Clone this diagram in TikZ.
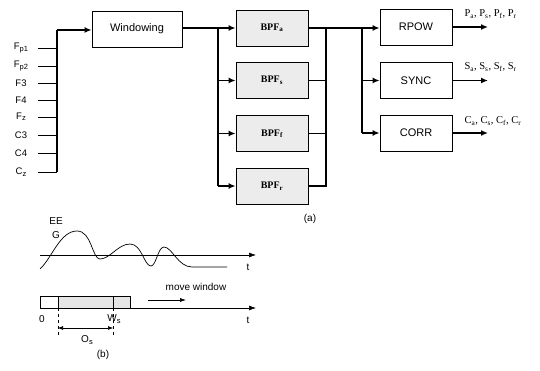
\documentclass[tikz,border=0pt]{standalone}
\usepackage{fontspec}
\setmainfont{Liberation Sans}
\newfontfamily\serifb{Liberation Serif}
\usetikzlibrary{arrows.meta}
\newcommand{\lsub}[1]{\raisebox{-0.15em}{\fontsize{7.5}{8}\selectfont #1}}
\begin{document}
\begin{tikzpicture}[x=1pt,y=-1pt,
  box/.style={draw,line width=0.8pt,minimum width=72pt,minimum height=36pt,inner sep=0pt,font=\fontsize{11}{12}\selectfont},
  bpf/.style={box,fill=gray!15,font=\serifb\bfseries\fontsize{10}{12}\selectfont},
  bus/.style={line width=1.5pt},
  arr/.style={line width=1.5pt,-{Latex[length=7pt,width=6pt]}},
  inlab/.style={font=\fontsize{9.5}{10}\selectfont,anchor=center},
  outlab/.style={font=\serifb\fontsize{10.5}{11}\selectfont,anchor=west},
  thin/.style={line width=0.6pt}]
\useasboundingbox (0,0) rectangle (540,371);
% input labels and lines
\foreach \n/\lab/\y in {a/F\lsub{p1}/48,b/F\lsub{p2}/66,c/F3/83,d/F4/100,e/F\lsub{z}/117,f/C3/135,g/C4/153,h/C\lsub{z}/172}{
  \node[inlab] (in\n) at (21,\y) {\lab};
  \coordinate (ie\n) at (57,\y);
  \draw[thin] (38,\y) -- (ie\n);
}
\coordinate (bustop) at (57,30);
\draw[bus] (ieh) -- (bustop);
% windowing
\node[box,minimum width=90pt] (win) at (137,29) {Windowing};
\draw[arr] (bustop) -- (win.west |- bustop);
% BPFs
\node[bpf] (bpfa) at (272,28) {BPF\textsubscript{a}};
\node[bpf] (bpfs) at (272,80.5) {BPF\textsubscript{s}};
\node[bpf] (bpff) at (272,133.5) {BPF\textsubscript{f}};
\node[bpf] (bpfr) at (272,186) {BPF\textsubscript{r}};
\coordinate (s1) at (218,28);
\coordinate (s4) at (218,186);
\draw[bus] (win.east |- s1) -- (s1);
\draw[bus] (s1) -- (s4);
\draw[arr] (s1) -- (bpfa.west);
\draw[arr] (218,80.5) -- (bpfs.west);
\draw[arr] (218,133.5) -- (bpff.west);
\draw[arr] (s4) -- (bpfr.west);
% output bus
\coordinate (o1) at (326,28);
\coordinate (o4) at (326,186);
\draw[bus] (bpfs.east) -- (326,80.5);
\draw[bus] (bpff.east) -- (326,133.5);
\draw[bus] (bpfr.east) -- (o4) -- (o1);
% RPOW etc
\node[box] (rpow) at (416,27) {RPOW};
\node[box] (sync) at (416,80.5) {SYNC};
\node[box] (corr) at (416,133) {CORR};
\coordinate (b1) at (362,28);
\coordinate (b3) at (362,133);
\draw[bus] (bpfa.east) -- (b1);
\draw[arr] (b1) -- (rpow.west |- b1);
\draw[bus] (b1) -- (b3);
\draw[arr] (362,80.5) -- (sync.west);
\draw[arr] (b3) -- (corr.west);
\coordinate (ra) at (488,27);
\coordinate (sa) at (488,80.5);
\coordinate (ca) at (488,133);
\draw[arr] (rpow.east) -- (ra);
\draw[arr] (sync.east) -- (sa);
\draw[arr] (corr.east) -- (ca);
\node[outlab] (pl) at (461,14) {P\textsubscript{a}, P\textsubscript{s}, P\textsubscript{f}, P\textsubscript{r}};
\node[outlab] (sl) at (461,67) {S\textsubscript{a}, S\textsubscript{s}, S\textsubscript{f}, S\textsubscript{r}};
\node[outlab] (cl) at (461,121) {C\textsubscript{a}, C\textsubscript{s}, C\textsubscript{f}, C\textsubscript{r}};
\node[font=\fontsize{10}{12}\selectfont] (la) at (310,219) {(a)};
% part (b)
\node[font=\fontsize{10}{12}\selectfont] (eeg1) at (56,221) {EE};
\node[font=\fontsize{10}{12}\selectfont] (eeg2) at (56,235) {G};
\coordinate (ax1s) at (40,255);
\coordinate (ax1e) at (256,255);
\draw[thin,-{Latex[length=7pt,width=5pt]}] (ax1s) -- (ax1e);
\node[font=\fontsize{10}{12}\selectfont] (t1) at (248,267) {t};
\draw[line width=0.7pt] (40,269) .. controls (52,258) and (60,231) .. (77,231)
  .. controls (92,231) and (92,259) .. (100,259)
  .. controls (110,259) and (118,244) .. (130,244)
  .. controls (142,244) and (144,266) .. (151,266)
  .. controls (156,266) and (158,247) .. (164,247)
  .. controls (172,247) and (178,267) .. (192,267)
  .. controls (205,267) and (215,267) .. (227,267);
% timeline
\coordinate (ax2s) at (130,308);
\coordinate (ax2e) at (256,308);
\draw[thin] (40,296) rectangle (58,308);
\draw[thin,fill=gray!20] (58,296) rectangle (130,308);
\draw[thin] (113,296) -- (113,308);
\draw[thin,-{Latex[length=7pt,width=5pt]}] (ax2s) -- (ax2e);
\node[font=\fontsize{10}{12}\selectfont] (zero) at (42,319) {0};
\node[font=\fontsize{10}{12}\selectfont] (ws) at (114,319) {W\lsub{s}};
\node[font=\fontsize{10}{12}\selectfont] (t2) at (248,320) {t};
\node[font=\fontsize{10}{12}\selectfont] (mw) at (196,287) {move window};
\coordinate (mwa) at (148,300);
\coordinate (mwb) at (186,300);
\draw[thin,-{Latex[length=6pt,width=4pt]}] (mwa) -- (mwb);
\coordinate (d1) at (58,308);
\coordinate (d1b) at (58,335);
\coordinate (d2) at (113,308);
\coordinate (d2b) at (113,335);
\draw[thin,dashed] (d1) -- (d1b);
\draw[thin,dashed] (d2) -- (d2b);
\draw[thin,{Latex[length=5pt,width=4pt]}-{Latex[length=5pt,width=4pt]}] (58,328) -- (113,328);
\node[font=\fontsize{10}{12}\selectfont] (os) at (87,340) {O\lsub{s}};
\node[font=\fontsize{10}{12}\selectfont] (lb) at (103,355) {(b)};
\end{tikzpicture}
\end{document}
